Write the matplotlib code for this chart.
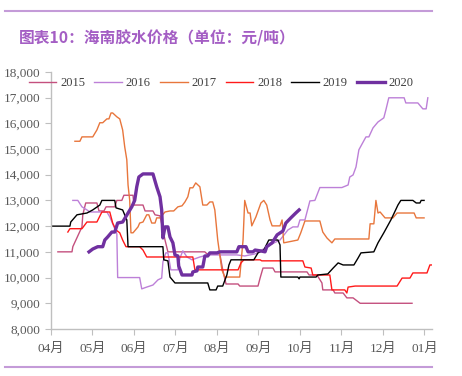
import matplotlib
matplotlib.use('Agg')
import matplotlib.pyplot as plt
from matplotlib.lines import Line2D

# x = months since start of April (0 = 04月 ... 9 = 01月), y = 元/吨
x_2015 = [0.17, 0.51, 0.53, 0.75, 0.77, 0.84, 1.11, 1.16, 1.28, 1.33, 1.54, 1.59, 1.71, 1.76,
          1.98, 2.00, 2.22, 2.27, 2.46, 2.51, 2.63, 2.75, 2.82, 3.71, 3.76, 4.07, 4.14, 4.22,
          4.51, 4.55, 4.99, 5.04, 5.11, 5.35, 5.40, 6.17, 6.22, 6.41, 6.53, 6.55, 6.80, 6.84,
          7.04, 7.13, 7.28, 7.45, 8.70]
y_2015 = [11000, 11000, 11200, 11970, 12440, 12900, 12900, 12590, 12590, 12750, 12750, 13000,
          13000, 13200, 13200, 12820, 12820, 12590, 12590, 12440, 12400, 11460, 11000, 11000,
          10920, 10920, 10300, 9750, 9750, 9670, 9670, 9980, 10370, 10370, 10220, 10220, 10100,
          10100, 9790, 9520, 9520, 9400, 9400, 9210, 9210, 9000, 9000]

x_2016 = [0.53, 0.65, 0.75, 0.87, 0.94, 1.35, 1.42, 1.49, 1.59, 1.61, 2.14, 2.19, 2.31, 2.46,
          2.58, 2.67, 2.70, 2.77, 2.82, 2.89, 3.06, 3.11, 3.18, 3.28, 3.40, 3.59, 3.78, 4.48,
          4.67, 4.92, 5.08, 5.28, 5.52, 5.71, 5.83, 5.95, 6.00, 6.12, 6.24, 6.36, 6.48, 7.01,
          7.16, 7.20, 7.28, 7.35, 7.42, 7.59, 7.66, 7.76, 7.88, 8.02, 8.07, 8.14, 8.51, 8.55,
          8.84, 8.96, 9.04, 9.08]
y_2016 = [13000, 13000, 12750, 12630, 12550, 12550, 12360, 12090, 11700, 10000, 10000, 9560,
          9630, 9710, 9910, 9980, 10610, 10960, 10960, 10300, 10300, 10760, 11040, 10800, 10690,
          10800, 10880, 10880, 10840, 10920, 11070, 11270, 11460, 11850, 11970, 11970, 12240,
          12240, 12980, 13000, 13500, 13500, 13600, 13910, 13990, 14300, 14970, 15470, 15470,
          15820, 16050, 16210, 16520, 16990, 16990, 16790, 16790, 16560, 16560, 16990]

x_2017 = [0.58, 0.70, 0.75, 1.01, 1.11, 1.18, 1.25, 1.35, 1.40, 1.45, 1.49, 1.59, 1.66, 1.73,
          1.78, 1.83, 1.86, 1.90, 1.93, 1.98, 2.10, 2.14, 2.22, 2.31, 2.36, 2.43, 2.51, 2.55,
          2.63, 2.75, 2.87, 2.96, 3.06, 3.16, 3.23, 3.30, 3.35, 3.42, 3.49, 3.59, 3.66, 3.76,
          3.83, 3.90, 3.95, 4.02, 4.12, 4.19, 4.55, 4.63, 4.67, 4.75, 4.80, 4.84, 4.94, 5.06,
          5.13, 5.20, 5.28, 5.33, 5.52, 5.57, 5.61, 5.95, 6.02, 6.12, 6.48, 6.55, 6.65, 6.77,
          6.84, 7.66, 7.69, 7.78, 7.83, 7.88, 7.93, 8.05, 8.24, 8.34, 8.75, 8.80, 8.99]
y_2017 = [15300, 15300, 15470, 15470, 15740, 16020, 16020, 16170, 16170, 16400, 16400, 16250,
          16170, 15740, 15080, 14580, 13600, 13000, 11740, 11740, 11970, 12120, 12160, 12440,
          12440, 12120, 12120, 12320, 12320, 12550, 12590, 12590, 12750, 12790, 12940, 13140,
          13490, 13490, 13680, 13530, 12820, 12820, 12940, 12940, 12630, 11460, 10300, 10020,
          10020, 11460, 13000, 12510, 12510, 12010, 12360, 12900, 13000, 12820, 12240, 12010,
          12010, 12240, 11350, 11460, 11740, 12200, 12200, 11770, 11540, 11350, 11500, 11500,
          12090, 12090, 13000, 12510, 12550, 12320, 12320, 12510, 12510, 12320, 12320]

x_2018 = [0.41, 0.46, 0.75, 0.87, 1.11, 1.23, 1.42, 1.49, 1.57, 1.66, 1.73, 1.81, 2.14, 2.22,
          2.31, 3.42, 3.47, 4.51, 4.58, 4.65, 5.04, 5.08, 6.07, 6.12, 6.27, 6.31, 6.72, 6.77,
          7.08, 7.13, 7.16, 7.33, 8.34, 8.46, 8.65, 8.72, 9.06, 9.13, 9.18]
y_2018 = [11770, 11900, 11900, 12160, 12160, 12550, 12550, 12120, 11850, 11740, 11460, 11200,
          11200, 11070, 10800, 10800, 10300, 10300, 10570, 10690, 10690, 10650, 10650, 10410,
          10370, 10100, 10100, 9520, 9520, 9400, 9630, 9670, 9670, 9980, 9980, 10180, 10180,
          10490, 10490]

x_2019 = [0.00, 0.46, 0.48, 0.63, 0.87, 1.01, 1.18, 1.23, 1.54, 1.57, 1.73, 1.83, 1.86, 2.70,
          2.72, 2.82, 2.87, 2.99, 3.78, 3.83, 3.98, 4.02, 4.14, 4.24, 4.29, 4.34, 4.89, 4.99,
          5.13, 5.25, 5.47, 5.52, 5.54, 5.95, 5.98, 6.00, 6.39, 6.43, 6.67, 6.80, 6.92, 7.04,
          7.30, 7.40, 7.47, 7.78, 7.88, 8.02, 8.19, 8.27, 8.36, 8.43, 8.72, 8.80, 8.89, 8.92,
          8.99]
y_2019 = [12000, 12000, 12160, 12440, 12510, 12630, 12820, 13000, 13000, 12710, 12630, 12240,
          11200, 11200, 10690, 10650, 10020, 9790, 9790, 9520, 9520, 9670, 9670, 10100, 10490,
          10690, 10690, 10960, 11070, 11460, 11460, 11270, 10020, 10020, 9950, 10020, 10020,
          10100, 10140, 10370, 10570, 10490, 10490, 10760, 10960, 11000, 11350, 11740, 12240,
          12510, 12820, 13000, 13000, 12900, 12900, 13000, 13000]

x_2020 = [0.92, 1.01, 1.13, 1.25, 1.30, 1.37, 1.47, 1.54, 1.61, 1.73, 1.86, 1.95, 2.02, 2.07,
          2.12, 2.22, 2.46, 2.55, 2.63, 2.67, 2.70, 2.75, 2.82, 2.87, 2.94, 2.99, 3.06, 3.08,
          3.16, 3.40, 3.42, 3.52, 3.54, 3.66, 3.71, 3.78, 3.83, 4.00, 4.07, 4.48, 4.53, 4.70,
          4.75, 4.87, 4.92, 5.04, 5.16, 5.20, 5.33, 5.45, 5.59, 5.66, 5.78, 5.90, 5.98]
y_2020 = [11000, 11110, 11200, 11200, 11460, 11580, 11770, 11770, 12120, 12160, 12510, 12750,
          13000, 13530, 13910, 14030, 14030, 13530, 13140, 12630, 11540, 11970, 11970, 11580,
          11350, 10880, 10840, 10450, 10100, 10100, 10220, 10260, 10410, 10410, 10840, 10840,
          10960, 10960, 11000, 11000, 11200, 11200, 11000, 11000, 11070, 11040, 11000, 11200,
          11350, 11660, 11810, 12120, 12320, 12510, 12630]

month_labels = ['04月', '05月', '06月', '07月', '08月', '09月', '10月', '11月', '12月', '01月']
title_text = '图表10：海南胶水价格（单位：元/吨）'


def main():
    plt.rcParams['font.family'] = ['Liberation Serif', 'Noto Sans CJK SC']

    fig = plt.figure(figsize=(4.62, 3.76), dpi=100)
    ax = fig.add_axes([0.110, 0.125, 0.825, 0.684])

    series = [
        ('2015', x_2015, y_2015, '#c4507e', 1.0),
        ('2016', x_2016, y_2016, '#bd80d8', 1.0),
        ('2017', x_2017, y_2017, '#e8763c', 1.0),
        ('2018', x_2018, y_2018, '#ff1a1a', 1.0),
        ('2019', x_2019, y_2019, '#000000', 1.0),
        ('2020', x_2020, y_2020, '#7030a0', 2.4),
    ]
    for label, xs, ys, color, lw in series:
        ax.plot(xs, ys, color=color, linewidth=lw, label=label)

    ax.set_xlim(0, 9.18)
    ax.set_ylim(8000, 18000)
    ax.set_yticks(range(8000, 18001, 1000))
    ax.set_yticklabels([f'{v:,}' for v in range(8000, 18001, 1000)])
    ax.set_xticks(range(len(month_labels)))
    ax.set_xticklabels(month_labels)

    for side in ['top', 'right']:
        ax.spines[side].set_visible(False)
    for side in ['left', 'bottom']:
        ax.spines[side].set_color('#bfbfbf')
        ax.spines[side].set_linewidth(1.0)
    ax.tick_params(axis='y', colors='#bfbfbf', labelcolor='#595959', labelsize=9.5,
                   length=4, direction='out')
    ax.tick_params(axis='x', colors='#bfbfbf', labelcolor='#595959', labelsize=9.5,
                   length=4, direction='out', pad=6)

    # legend across the top of the plot area
    handles = [Line2D([], [], color=c, linewidth=lw) for _, _, _, c, lw in series]
    leg = fig.legend(handles, [s[0] for s in series], loc='center',
                     bbox_to_anchor=(221 / 462, 1 - 83 / 376), ncol=6, frameon=False,
                     fontsize=9, handlelength=2.2, handletextpad=0.3, columnspacing=0.75,
                     borderpad=0.2, labelcolor='#404040')
    leg.set_zorder(5)

    # header / footer rules and title
    fig.add_artist(Line2D([5 / 462, 432 / 462], [1 - 11 / 376, 1 - 11 / 376],
                          color='#c49bd8', linewidth=1.5))
    fig.add_artist(Line2D([5 / 462, 432 / 462], [1 - 367 / 376, 1 - 367 / 376],
                          color='#c49bd8', linewidth=1.5))
    fig.text(19 / 462, 1 - 38 / 376, title_text, color='#a45ec4', fontsize=11.3,
             fontweight='bold', va='center', ha='left',
             family=['Noto Sans CJK SC', 'DejaVu Sans'])

    fig.savefig('out.png', dpi=100)


if __name__ == '__main__':
    main()
